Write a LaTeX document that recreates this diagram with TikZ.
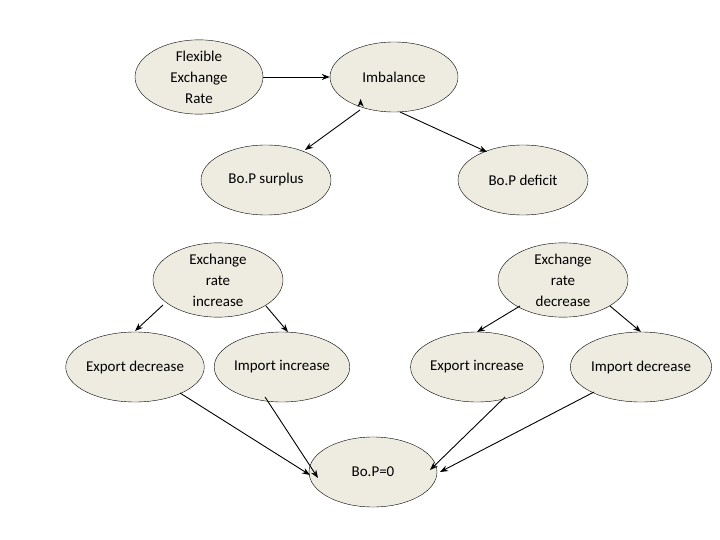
\documentclass[tikz,border=0pt]{standalone}
\usepackage{fontspec}
\setmainfont{Carlito}
\usetikzlibrary{shapes.geometric,arrows.meta}
\begin{document}
\begin{tikzpicture}[x=1pt,y=-1pt,
  el/.style={ellipse,draw=black,fill={rgb,255:red,238;green,236;blue,225},minimum width=128pt,minimum height=70pt,inner sep=0pt,align=center,font=\fontsize{15}{21}\selectfont},
  ar/.style={-{Stealth[length=8pt,width=6pt]},line width=0.9pt}]
\useasboundingbox (0,0) rectangle (720,540);
\node[el] (fx) at (199,77) {Flexible\\Exchange\\Rate};
\node[el] (im) at (394,77) {Imbalance};
\node[el,minimum width=130pt] (bs) at (266,180) {Bo.P surplus};
\node[el,minimum width=130pt] (bd) at (523,180) {Bo.P deficit};
\node[el,minimum width=130pt] (ei) at (218,280) {Exchange\\rate\\increase};
\node[el,minimum width=130pt] (ed) at (563,280) {Exchange\\rate\\decrease};
\node[el,minimum width=130pt] (xd) at (135,367) {Export decrease};
\node[el] (ii) at (282,367) {Import increase};
\node[el] (xi) at (477,367) {Export increase};
\node[el] (id) at (641,367) {Import decrease};
\node[el] (b0) at (373,472) {Bo.P=0};
\draw[ar] (fx) -- (im);
\draw[ar] (im.south west) ++(12,-3) coordinate (a1);
\draw[ar] (360,110) -- (305,150);
\draw[ar] (400,112) -- (487,152);
\draw[ar] (163,305) -- (135,331);
\draw[ar] (266,306) -- (288,332);
\draw[ar] (520,306) -- (477,332);
\draw[ar] (610,306) -- (641,332);
\draw[ar] (180,393) -- (310,475);
\draw[ar] (265,397) -- (318,478);
\draw[ar] (505,397) -- (430,470);
\draw[ar] (594,392) -- (440,472);
\end{tikzpicture}
\end{document}
